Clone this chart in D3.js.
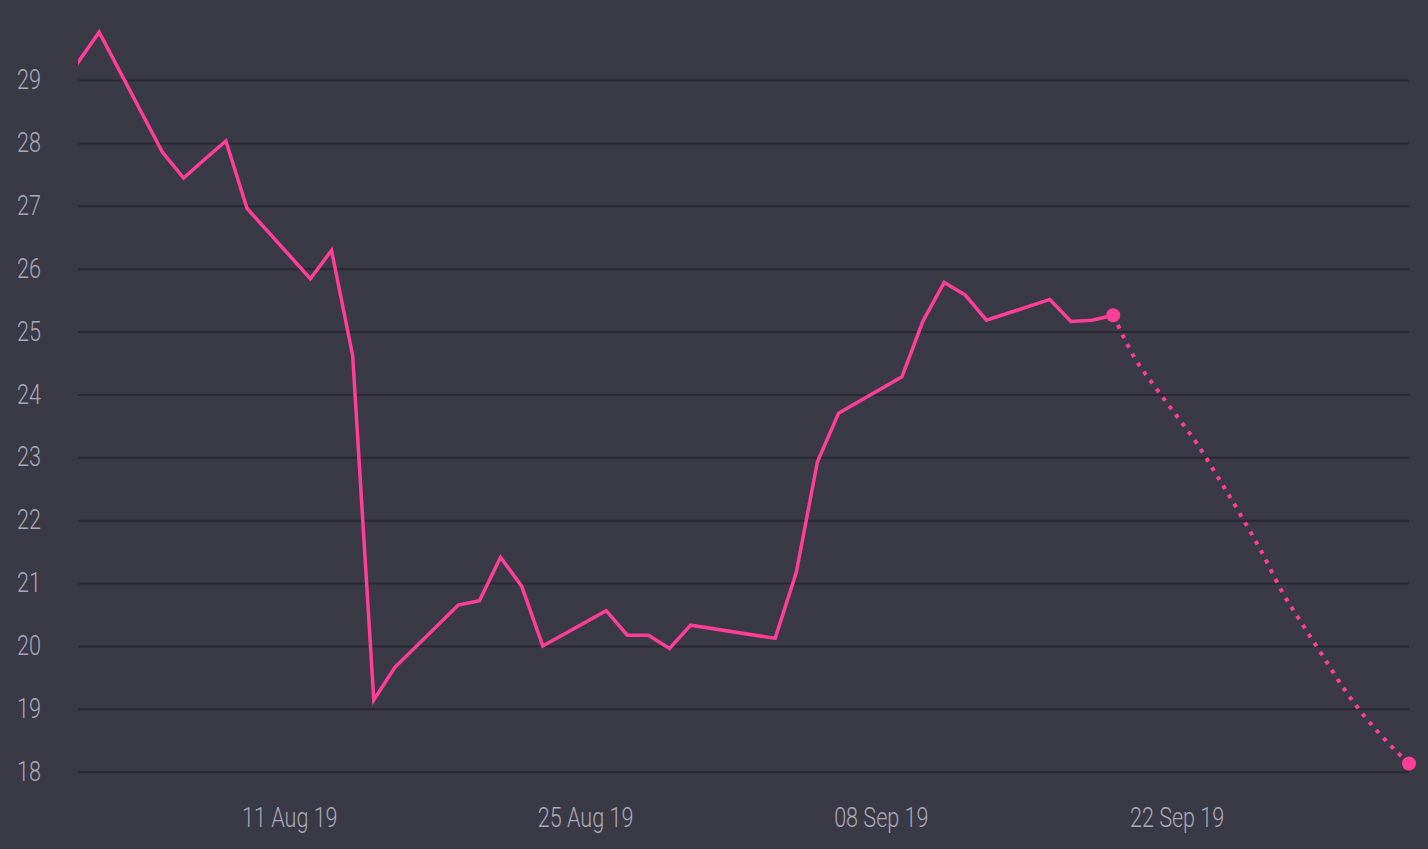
<!DOCTYPE html>
<html>
<head>
<meta charset="utf-8" />
<title></title>
<script src="https://d3js.org/d3.v7.min.js"></script>
<style>
body{
    margin:0;
    background-color:#3a3946;
    overflow:hidden;
}
.tick text{
    font-family:Roboto, sans-serif;
    font-weight:300;
    font-size:27px;
    fill:#aba9bb;
}
.grid line{
    stroke:#2a2932;
    stroke-width:2px;
}
.line{
    fill:none;
    stroke:#ff3e97;
    stroke-width:3.5px;
}
.forecast{
    fill:none;
    stroke:#ff3e97;
    stroke-width:4px;
    stroke-dasharray:4,6.7;
}
</style>
</head>
<body>
<div id="chart"></div>
<script>

// cours journalier
var dates = ["2019-07-31","2019-08-01","2019-08-02","2019-08-05","2019-08-06","2019-08-07","2019-08-08","2019-08-09",
    "2019-08-12","2019-08-13","2019-08-14","2019-08-15","2019-08-16",
    "2019-08-19","2019-08-20","2019-08-21","2019-08-22","2019-08-23",
    "2019-08-26","2019-08-27","2019-08-28","2019-08-29","2019-08-30",
    "2019-09-03","2019-09-04","2019-09-05","2019-09-06",
    "2019-09-09","2019-09-10","2019-09-11","2019-09-12","2019-09-13",
    "2019-09-16","2019-09-17","2019-09-18","2019-09-19"];
var values = [28.8,29.28,29.76,27.85,27.44,27.74,28.03,26.96,
    25.84,26.29,24.62,19.14,19.66,
    20.65,20.72,21.41,20.95,20.00,
    20.56,20.17,20.17,19.96,20.33,
    20.12,21.17,22.93,23.70,
    24.28,25.17,25.78,25.58,25.18,
    25.51,25.16,25.18,25.26];

// prévision (pointillés)
var forecastDates = ["2019-09-19","2019-09-20","2019-09-21","2019-09-22","2019-09-23","2019-09-24","2019-09-25","2019-09-26",
    "2019-09-27","2019-09-28","2019-09-29","2019-09-30","2019-10-01","2019-10-02","2019-10-03"];
var forecastValues = [25.26,24.59,24.11,23.66,23.20,22.66,22.10,21.51,
    20.86,20.32,19.80,19.28,18.84,18.46,18.13];

var xTicks = ["2019-08-11","2019-08-25","2019-09-08","2019-09-22"];
var yTicks = [18,19,20,21,22,23,24,25,26,27,28,29];

var width = 1428,
    height = 849;
var margin = {top: 80, right: 19, bottom: 77, left: 78};
var plotW = width - margin.left - margin.right,
    plotH = height - margin.top - margin.bottom;
var squeeze = 0.8;  // police condensée simulée

var parse = d3.utcParse("%Y-%m-%d");

var data = dates.map(function(d, i){ return {date: parse(d), value: values[i]}; });
var prev = forecastDates.map(function(d, i){ return {date: parse(d), value: forecastValues[i]}; });

var x = d3.scaleUtc()
    .domain([parse("2019-08-01"), parse("2019-10-03")])
    .range([margin.left, margin.left + plotW]);
var y = d3.scaleLinear()
    .domain([18, 29])
    .range([margin.top + plotH - 0.3, margin.top]);

var svg = d3.select("#chart").append("svg")
    .attr("width", width)
    .attr("height", height);

svg.append("rect")
    .attr("width", width)
    .attr("height", height)
    .attr("fill", "#3a3946");

svg.append("clipPath")
    .attr("id", "clip")
    .append("rect")
    .attr("x", margin.left)
    .attr("y", 0)
    .attr("width", plotW)
    .attr("height", height);

// Y axis + grille
var gy = svg.append("g")
    .attr("class", "grid")
    .attr("transform", "translate(" + margin.left + ",0)")
    .call(d3.axisLeft(y).tickValues(yTicks).tickSize(-plotW).tickPadding(37));
gy.select(".domain").remove();
gy.selectAll("text")
    .attr("x", -37 / squeeze)
    .attr("transform", "scale(" + squeeze + ",1)");

// X axis
var gx = svg.append("g")
    .attr("transform", "translate(0," + y(18) + ")")
    .call(d3.axisBottom(x)
        .tickValues(xTicks.map(parse))
        .tickSize(0)
        .tickPadding(36)
        .tickFormat(d3.utcFormat("%d %b %y")));
gx.select(".domain").remove();
gx.selectAll("text")
    .attr("transform", "scale(" + squeeze + ",1)");

var valueLine = d3.line()
    .x(function(d){ return x(d.date); })
    .y(function(d){ return y(d.value); });

var forecastLine = d3.line()
    .curve(d3.curveMonotoneX)
    .x(function(d){ return x(d.date); })
    .y(function(d){ return y(d.value); });

svg.append("path")
    .attr("class", "forecast")
    .attr("clip-path", "url(#clip)")
    .attr("d", forecastLine(prev));

svg.append("path")
    .attr("class", "line")
    .attr("clip-path", "url(#clip)")
    .attr("d", valueLine(data));

svg.selectAll("circle")
    .data([data[data.length - 1], prev[prev.length - 1]])
    .enter()
    .append("circle")
    .attr("r", 7)
    .attr("cx", function(d){ return x(d.date); })
    .attr("cy", function(d){ return y(d.value); })
    .attr("fill", "#ff3e97");

</script>
</body>
</html>
